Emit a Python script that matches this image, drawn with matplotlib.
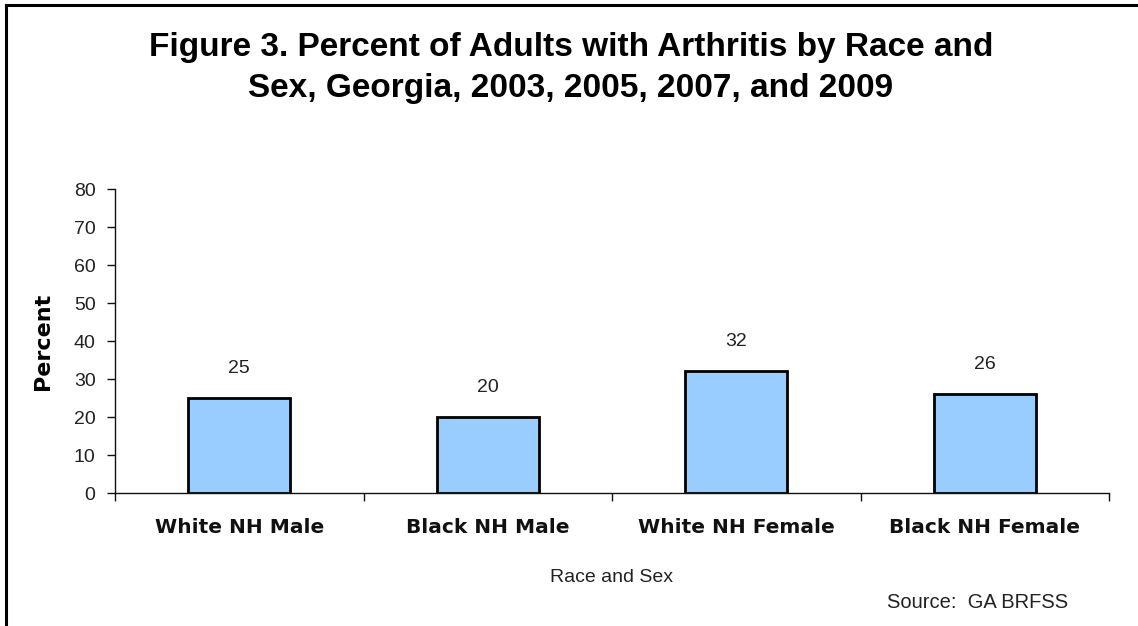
import matplotlib
matplotlib.use("Agg")
import matplotlib.pyplot as plt
from matplotlib.lines import Line2D
from matplotlib.transforms import blended_transform_factory

# Data
categories = ["White NH Male", "Black NH Male", "White NH Female", "Black NH Female"]
percent = [25, 20, 32, 26]
y_ticks = [0, 10, 20, 30, 40, 50, 60, 70, 80]

title = "Figure 3. Percent of Adults with Arthritis by Race and\nSex, Georgia, 2003, 2005, 2007, and 2009"

W, H = 1138, 626
fig = plt.figure(figsize=(W / 100, H / 100), dpi=100)
fig.patch.set_facecolor("white")

# Outer frame (left and top edges)
fig.add_artist(Line2D([6 / W, 6 / W], [0, 1 - 5 / H], transform=fig.transFigure,
                      color="black", lw=2.2, solid_capstyle="projecting"))
fig.add_artist(Line2D([6 / W, 1], [1 - 5 / H, 1 - 5 / H], transform=fig.transFigure,
                      color="black", lw=2.2, solid_capstyle="projecting"))

ax = fig.add_axes([115 / W, (H - 493) / H, 994 / W, 304 / H])
x = list(range(len(categories)))
ax.bar(x, percent, width=0.41, color="#99CCFF", edgecolor="black", linewidth=2.0, zorder=3)

ax.set_xlim(-0.5, len(categories) - 0.5)
ax.set_ylim(0, 80)

for s in ["top", "right"]:
    ax.spines[s].set_visible(False)
for s in ["left", "bottom"]:
    ax.spines[s].set_linewidth(1.0)
    ax.spines[s].set_color("#111111")

ax.set_yticks(y_ticks)
ax.set_yticklabels([str(v) for v in y_ticks], fontfamily="Liberation Sans", fontsize=14, color="#222222")
ax.tick_params(axis="y", direction="out", length=6, width=1.0, pad=8, color="#111111")

ax.set_xticks([i - 0.5 for i in range(len(categories) + 1)])
ax.set_xticklabels([])
ax.tick_params(axis="x", direction="out", length=6, width=1.0, color="#111111")

tr = blended_transform_factory(ax.transData, ax.transAxes)
for i, name in enumerate(categories):
    ax.text(i, -0.112, name, transform=tr, ha="center", va="center",
            fontfamily="DejaVu Sans", fontweight="bold", fontsize=14.5, color="#111111")

for i, v in enumerate(percent):
    ax.annotate(f"{v:g}", (i, v), xytext=(0, 21.5), textcoords="offset points",
                ha="center", va="center", fontfamily="Liberation Sans", fontsize=14, color="#222222")

ax.set_ylabel("Percent", fontfamily="DejaVu Sans", fontweight="bold", fontsize=16, labelpad=0)
ax.yaxis.set_label_coords((53 - 115) / 994, 0.5)

fig.text(0.5 * (115 + 1109) / W, 1 - 577 / H, "Race and Sex", ha="center", va="center",
         fontfamily="Liberation Sans", fontsize=14, color="#222222")
fig.text(887 / W, 1 - 602 / H, "Source:  GA BRFSS", ha="left", va="center",
         fontfamily="Liberation Sans", fontsize=14.5, color="#222222")

fig.text(571 / W, 1 - 68 / H, title, ha="center", va="center", fontfamily="Liberation Sans",
         fontweight="bold", fontsize=24, linespacing=1.4, color="black")

fig.savefig("out.png", dpi=100, facecolor="white")
